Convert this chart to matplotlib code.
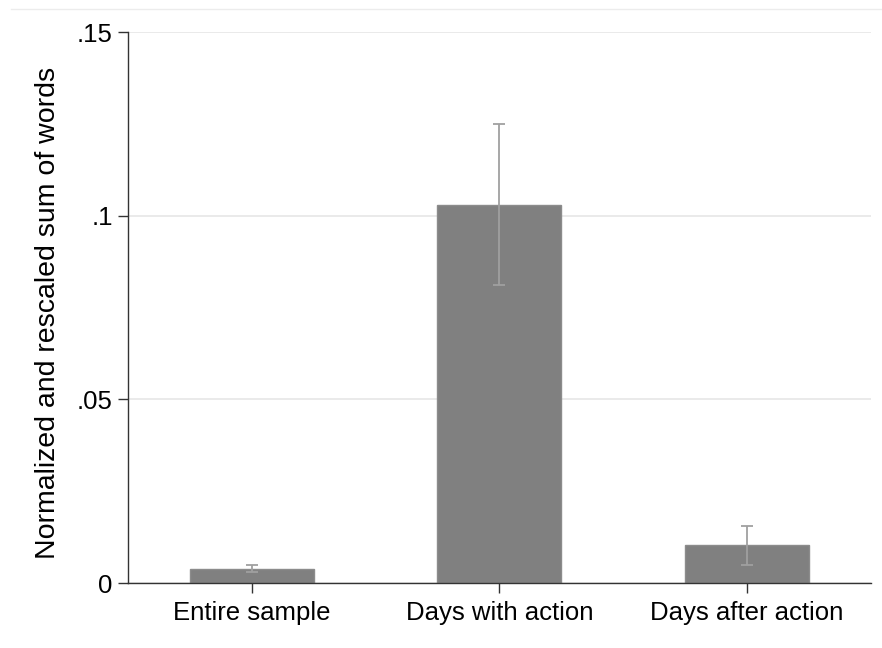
import matplotlib.pyplot as plt
from matplotlib.lines import Line2D

plt.rcParams['font.family'] = ['Liberation Sans', 'DejaVu Sans']

# data
categories = ["Entire sample", "Days with action", "Days after action"]
means = [0.0037, 0.1029, 0.0103]
ci_low = [0.0029, 0.0811, 0.0050]
ci_high = [0.0049, 0.1249, 0.0155]
yticks = [0, 0.05, 0.10, 0.15]
ytick_labels = ["0", ".05", ".1", ".15"]

fig = plt.figure(figsize=(8.82, 6.48), dpi=100)
ax = fig.add_axes([0.1451, 0.1003, 0.9872 - 0.1451, 0.9506 - 0.1003])

x = list(range(1, len(categories) + 1))
ax.bar(x, means, width=0.5, color='#808080', edgecolor='#8c8c8c', linewidth=1, zorder=2)

err_lo = [m - l for m, l in zip(means, ci_low)]
err_hi = [h - m for m, h in zip(means, ci_high)]
ax.errorbar(x, means, yerr=[err_lo, err_hi], fmt='none', ecolor='#a0a0a0',
            elinewidth=1.3, capsize=4, capthick=1.3, zorder=3)

ax.set_xlim(0.5, 3.5)
ax.set_ylim(0, 0.15)
ax.set_yticks(yticks)
ax.set_yticklabels(ytick_labels)
ax.set_xticks(x)
ax.set_xticklabels(categories)
ax.yaxis.grid(True, color='#e6e6e6', linewidth=1.2, zorder=0)
ax.set_axisbelow(True)

for s in ['top', 'right']:
    ax.spines[s].set_visible(False)
for s in ['left', 'bottom']:
    ax.spines[s].set_color('#333333')
    ax.spines[s].set_linewidth(1.0)

ax.tick_params(axis='both', labelsize=18.5, length=7, width=1, color='#333333', pad=4)
ax.tick_params(axis='x', pad=6)
ax.set_ylabel("Normalized and rescaled sum of words", fontsize=20.5)
ax.yaxis.set_label_coords(-0.09, 0.49)

# faint frame line at the top of the picture
fig.add_artist(Line2D([0.012, 1.0], [0.986, 0.986], transform=fig.transFigure,
                      color='#ececec', linewidth=1))

fig.savefig("out.png", dpi=100)
